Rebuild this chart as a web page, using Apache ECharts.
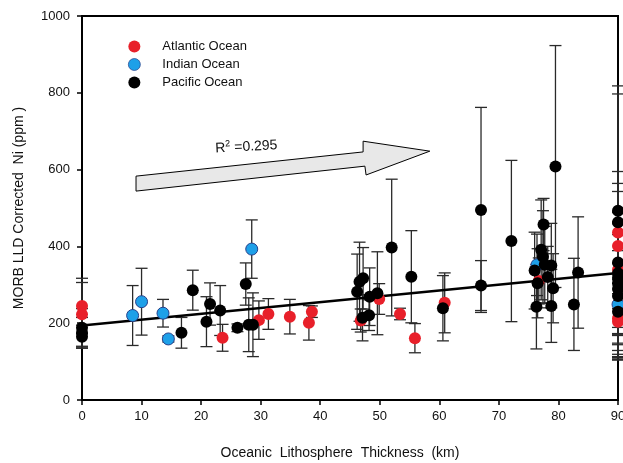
<!DOCTYPE html>
<html>
<head>
<meta charset="utf-8">
<script src="https://cdn.jsdelivr.net/npm/echarts@6/dist/echarts.min.js"></script>
<style>
  html, body { margin: 0; padding: 0; background: #fff; }
  #chart { width: 623px; height: 463px; }
</style>
</head>
<body>
<div id="chart"></div>
<script>
// ---- data: [thickness km, Ni ppm, error (±ppm)] ----
const atlantic = [
  [0, 245, 72], [0, 223, 83], [23.6, 162, 35], [29.7, 208, 50], [31.3, 224, 40],
  [34.9, 217, 45], [38.1, 201, 45], [38.6, 230, 15], [46.8, 207, 30], [49.9, 263, 40],
  [53.4, 224, 15], [55.9, 161, 38], [60.9, 253, 78], [76.7, 310, 60],
  [90, 436, 159], [90, 401, 163], [90, 339, 150], [90, 213, 100], [90, 204, 100]
];
const indian = [
  [8.5, 220, 78], [10.0, 256, 87], [13.6, 226, 36], [14.5, 159, 8], [28.5, 393, 76],
  [76.4, 352, 80], [90, 249, 140]
];
const pacific = [
  [0, 188, 50], [0, 175, 40], [0, 165, 30], [16.7, 175, 40], [18.6, 286, 52],
  [20.9, 204, 65], [21.5, 250, 55], [23.2, 233, 65], [26.1, 188, 10], [27.5, 302, 55],
  [28.0, 196, 70], [28.7, 196, 83], [46.2, 282, 98], [46.6, 308, 103], [47.2, 317, 80],
  [47.1, 214, 60], [48.2, 221, 40], [48.3, 269, 75], [49.6, 278, 108], [52.0, 397, 178],
  [55.3, 321, 120], [60.6, 239, 85], [67.0, 495, 267], [67.0, 298, 65], [72.1, 414, 210],
  [79.5, 608, 315], [76.3, 243, 110], [76.0, 337, 100], [76.5, 304, 90], [77.1, 391, 130],
  [77.5, 457, 68], [77.4, 373, 120], [77.7, 352, 100], [78.2, 320, 80], [78.8, 350, 110],
  [79.1, 291, 90], [78.8, 245, 95], [82.6, 249, 120], [83.3, 332, 145],
  [90, 493, 325], [90, 463, 334], [90, 358, 185], [90, 330, 160], [90, 318, 170],
  [90, 304, 160], [90, 289, 170], [90, 271, 160], [90, 230, 125]
];
// regression line end points
const regression = [[0, 194], [90, 331]];
// annotation arrow in data coordinates
const arrowPts = [[9.07, 544], [9.07, 583], [47.2, 646], [47.2, 674], [58.4, 648], [47.7, 586], [47.5, 609]];
const r2Pos = [27.6, 659];
const xTicks = { min: 0, max: 90, interval: 10 };
const yTicks = { min: 0, max: 1000, interval: 200 };
const seriesNames = ['Atlantic Ocean', 'Indian Ocean', 'Pacific Ocean'];

const FONT = '"Liberation Sans", Arial, sans-serif';
const colors = { 'Atlantic Ocean': '#e8202a', 'Indian Ocean': '#1ea0e8', 'Pacific Ocean': '#000000' };

const allErr = atlantic.concat(indian, pacific);

const chart = echarts.init(document.getElementById('chart'), null, { renderer: 'canvas' });

function errRender(params, api) {
  const x = api.value(0), y = api.value(1), e = api.value(2);
  const top = api.coord([x, y + e]);
  const bot = api.coord([x, y - e]);
  const hw = 6;
  const st = { stroke: '#2a2a2a', lineWidth: 1.3 };
  return {
    type: 'group',
    children: [
      { type: 'line', shape: { x1: top[0], y1: top[1], x2: bot[0], y2: bot[1] }, style: st },
      { type: 'line', shape: { x1: top[0] - hw, y1: top[1], x2: top[0] + hw, y2: top[1] }, style: st },
      { type: 'line', shape: { x1: bot[0] - hw, y1: bot[1], x2: bot[0] + hw, y2: bot[1] }, style: st }
    ]
  };
}

const option = {
  animation: false,
  backgroundColor: '#fff',
  textStyle: { fontFamily: FONT },
  grid: {
    left: 82, right: 5, top: 16, bottom: 63, outerBoundsMode: 'none', containLabel: false,
    show: true, borderColor: '#000', borderWidth: 2, backgroundColor: 'transparent'
  },
  legend: {
    data: [
      { name: seriesNames[0], icon: 'circle' },
      { name: seriesNames[1], icon: 'circle', itemStyle: { borderWidth: 0.7, borderColor: '#27408b' } },
      { name: seriesNames[2], icon: 'circle' }
    ],
    orient: 'vertical',
    left: 123, top: 35,
    itemWidth: 12, itemHeight: 12, itemGap: 5,
    textStyle: { fontFamily: FONT, fontSize: 13, color: '#111', padding: [0, 0, 0, 17] }
  },
  xAxis: {
    type: 'value', min: xTicks.min, max: xTicks.max, interval: xTicks.interval,
    name: 'Oceanic  Lithosphere  Thickness  (km)', nameLocation: 'middle', nameGap: 46,
    nameTextStyle: { fontFamily: FONT, fontSize: 14, color: '#111', padding: [0, 20, 0, 0] },
    axisLine: { show: true, onZero: false, lineStyle: { color: '#000', width: 2 } },
    axisTick: { show: true, inside: false, length: 5, lineStyle: { color: '#000', width: 1.5 } },
    axisLabel: { fontFamily: FONT, fontSize: 13, color: '#111', margin: 10 },
    splitLine: { show: false }
  },
  yAxis: {
    type: 'value', min: yTicks.min, max: yTicks.max, interval: yTicks.interval,
    name: 'MORB LLD Corrected  Ni (ppm )', nameLocation: 'middle', nameGap: 56,
    nameTextStyle: { fontFamily: FONT, fontSize: 14, color: '#111' },
    axisLine: { show: true, onZero: false, lineStyle: { color: '#000', width: 2 } },
    axisTick: { show: true, inside: false, length: 5, lineStyle: { color: '#000', width: 1.5 } },
    axisLabel: { fontFamily: FONT, fontSize: 13, color: '#111', margin: 12, formatter: v => String(v) },
    splitLine: { show: false }
  },
  series: [
    {
      type: 'custom', name: 'err', renderItem: errRender, data: allErr,
      encode: { x: 0, y: 1 }, z: 1, clip: false, silent: true
    },
    {
      type: 'line', name: 'fit', data: regression, symbol: 'none', z: 2,
      lineStyle: { color: '#000', width: 2.5 }, silent: true
    },
    {
      type: 'scatter', name: seriesNames[0], data: atlantic, symbolSize: 12, z: 3,
      itemStyle: { color: colors['Atlantic Ocean'], opacity: 1 }
    },
    {
      type: 'scatter', name: seriesNames[1], data: indian, symbolSize: 12, z: 3,
      itemStyle: { color: colors['Indian Ocean'], borderColor: '#27408b', borderWidth: 1, opacity: 1 }
    },
    {
      type: 'scatter', name: seriesNames[2], data: pacific, symbolSize: 12, z: 4,
      itemStyle: { color: colors['Pacific Ocean'], opacity: 1 }
    }
  ]
};
chart.setOption(option);

// annotation arrow + R² label positioned through the axes
const px = arrowPts.map(p => chart.convertToPixel({ gridIndex: 0 }, p));
const tp = chart.convertToPixel({ gridIndex: 0 }, r2Pos);
chart.setOption({
  graphic: [
    {
      type: 'polygon', shape: { points: px }, z: 10,
      style: { fill: '#e8e8e8', stroke: '#000', lineWidth: 1 }
    },
    {
      type: 'text', x: tp[0], y: tp[1], rotation: 3 * Math.PI / 180, z: 11,
      style: {
        text: '{a|R}{s|2}{a| =0.295}',
        rich: {
          a: { fontFamily: FONT, fontSize: 14, fill: '#111', color: '#111' },
          s: { fontFamily: FONT, fontSize: 9, color: '#111', verticalAlign: 'top', padding: [0, 0, 8, 0] }
        },
        align: 'center', verticalAlign: 'middle'
      }
    }
  ]
});
</script>
</body>
</html>
